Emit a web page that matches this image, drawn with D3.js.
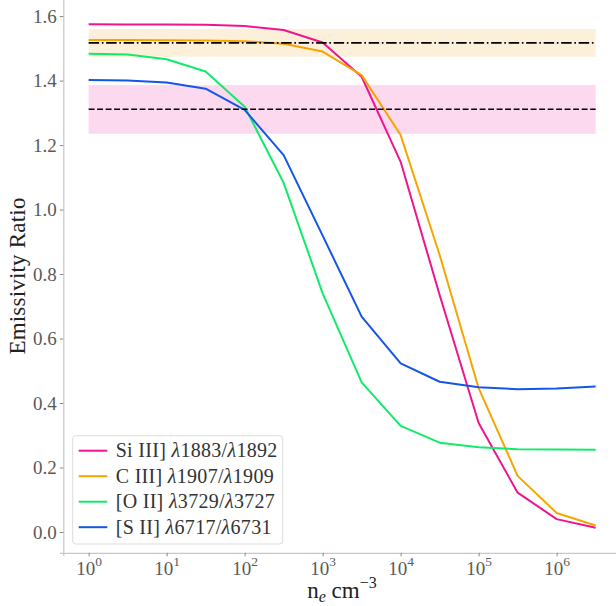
<!DOCTYPE html>
<html>
<head>
<meta charset="utf-8">
<script src="https://cdn.jsdelivr.net/npm/d3@7/dist/d3.min.js"></script>
<style>
  html, body { margin: 0; padding: 0; background: #fff; }
  svg { display: block; }
  text { font-family: "Liberation Serif", "DejaVu Serif", serif; }
</style>
</head>
<body>
<svg id="chart" width="616" height="606"></svg>
<script>
// Electron density grid (cm^-3), half-decade steps
const densities = [1, 3.162, 10, 31.62, 100, 316.2, 1000, 3162, 1e4, 3.162e4, 1e5, 3.162e5, 1e6, 3.162e6];

// Emissivity ratios of the density-sensitive doublets
const siIII = [1.575, 1.574, 1.574, 1.573, 1.569, 1.557, 1.518, 1.412, 1.148, 0.735, 0.338, 0.122, 0.040, 0.013];
const cIII  = [1.526, 1.526, 1.525, 1.524, 1.522, 1.514, 1.490, 1.417, 1.231, 0.859, 0.446, 0.174, 0.059, 0.020];
const oII   = [1.483, 1.481, 1.466, 1.428, 1.319, 1.083, 0.740, 0.464, 0.329, 0.277, 0.263, 0.257, 0.256, 0.255];
const sII   = [1.402, 1.400, 1.394, 1.375, 1.309, 1.169, 0.919, 0.668, 0.523, 0.466, 0.449, 0.443, 0.445, 0.451];

const seriesNames  = ["Si III] λ1883/λ1892", "C III] λ1907/λ1909", "[O II] λ3729/λ3727", "[S II] λ6717/λ6731"];
const seriesColors = ["#f0148e", "#f6a500", "#12ea6a", "#1456e8"];

// Measured ratios with their uncertainty bands
const measuredCIII = [1.517, 1.474, 1.560];   // value, low, high
const measuredSII  = [1.311, 1.235, 1.386];

const yTicks = [0.0, 0.2, 0.4, 0.6, 0.8, 1.0, 1.2, 1.4, 1.6];
const xTickExps = [0, 1, 2, 3, 4, 5, 6];

const svg = d3.select("#chart");

const x = d3.scaleLog()
  .domain([Math.pow(10, -0.325), Math.pow(10, 6.825)])
  .range([63.3, 621]);
const y = d3.scaleLinear()
  .domain([-0.0645, 1.653])
  .range([552.8, -1.0]);

const plot = svg.append("g");

// Uncertainty bands
const bands = [
  { m: measuredCIII, fill: "#fcf0da" },
  { m: measuredSII,  fill: "#fcd9ef" }
];
bands.forEach(b => {
  plot.append("rect")
    .attr("x", x(densities[0]))
    .attr("width", x(densities[densities.length - 1]) - x(densities[0]))
    .attr("y", y(b.m[2]))
    .attr("height", y(b.m[1]) - y(b.m[2]))
    .attr("fill", b.fill);
});

// Model curves
const line = d3.line()
  .x((d, i) => x(densities[i]))
  .y(d => y(d));

[siIII, cIII, oII, sII].forEach((vals, i) => {
  plot.append("path")
    .datum(vals)
    .attr("d", line)
    .attr("fill", "none")
    .attr("stroke", seriesColors[i])
    .attr("stroke-width", 2)
    .attr("stroke-linejoin", "round");
});

// Measured values
const refLine = (v, dash) => plot.append("line")
  .attr("x1", x(densities[0]))
  .attr("x2", x(densities[densities.length - 1]))
  .attr("y1", y(v)).attr("y2", y(v))
  .attr("stroke", "#000")
  .attr("stroke-width", 1.6)
  .attr("stroke-dasharray", dash);
refLine(measuredCIII[0], "10.5,2.7,1.6,2.7");
refLine(measuredSII[0], "5.9,2.6");

// Axes
const axisColor = "#c8c8c8";
const tickTextColor = "#5a5a5a";

const yAxis = svg.append("g").attr("transform", `translate(${x.range()[0]},0)`)
  .call(d3.axisLeft(y).tickValues(yTicks).tickFormat(d3.format(".1f")).tickSizeOuter(0).tickSize(3.5).tickPadding(3));
const xAxis = svg.append("g").attr("transform", `translate(0,${y.range()[0]})`)
  .call(d3.axisBottom(x).tickValues(xTickExps.map(e => Math.pow(10, e))).tickFormat(() => "").tickSizeOuter(0).tickSize(3.5));

[yAxis, xAxis].forEach(g => {
  g.select(".domain").attr("stroke", axisColor).attr("stroke-width", 1.2);
  g.selectAll(".tick line").attr("stroke", "#888").attr("stroke-width", 1);
});
yAxis.selectAll(".tick text")
  .attr("fill", tickTextColor)
  .attr("font-size", 19)
  .attr("font-family", "Liberation Serif, serif");

// Power-of-ten tick labels
xAxis.selectAll(".tick").each(function(d, i) {
  const t = d3.select(this).append("text")
    .attr("y", 21.9)
    .attr("text-anchor", "middle")
    .attr("fill", tickTextColor)
    .attr("font-size", 19)
    .attr("font-family", "Liberation Serif, serif");
  t.append("tspan").text("10");
  t.append("tspan").attr("dy", -8.5).attr("font-size", 13.5).text(xTickExps[i]);
});

// Axis titles
svg.append("text")
  .attr("transform", "translate(25,276) rotate(-90)")
  .attr("text-anchor", "middle")
  .attr("fill", "#222")
  .attr("font-size", 23)
  .attr("letter-spacing", 0.2)
  .text("Emissivity Ratio");

const xl = svg.append("text")
  .attr("x", 342).attr("y", 598)
  .attr("text-anchor", "middle")
  .attr("fill", "#222")
  .attr("font-size", 23);
xl.append("tspan").text("n");
xl.append("tspan").attr("dy", 4).attr("font-size", 16).attr("font-style", "italic").text("e");
xl.append("tspan").attr("dy", -4).text(" cm");
xl.append("tspan").attr("dy", -10).attr("font-size", 16).text("−3");

// Legend
const legend = svg.append("g");
legend.append("rect")
  .attr("x", 72.7).attr("y", 435.7)
  .attr("width", 210).attr("height", 108.3)
  .attr("rx", 3)
  .attr("fill", "#fff").attr("fill-opacity", 0.85)
  .attr("stroke", "#dcdcdc").attr("stroke-width", 1);

seriesNames.forEach((name, i) => {
  const ry = 450.7 + i * 25.5;
  legend.append("line")
    .attr("x1", 78.7).attr("x2", 107.3)
    .attr("y1", ry).attr("y2", ry)
    .attr("stroke", seriesColors[i]).attr("stroke-width", 2);
  const t = legend.append("text")
    .attr("x", 115.7).attr("y", ry + 6.5)
    .attr("fill", "#333")
    .attr("font-size", 20)
    .attr("letter-spacing", 0.3);
  const parts = name.split("λ");
  parts.forEach((p, j) => {
    if (j > 0) t.append("tspan").attr("font-style", "italic").text("λ");
    t.append("tspan").text(p);
  });
});
</script>
</body>
</html>
